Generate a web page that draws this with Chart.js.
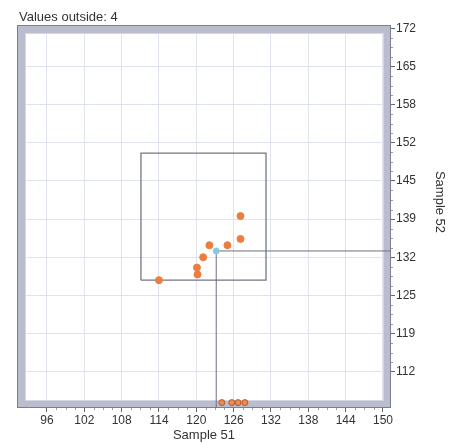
<!DOCTYPE html>
<html>
<head>
<meta charset="utf-8">
<script src="https://cdn.jsdelivr.net/npm/chart.js@4/dist/chart.umd.min.js"></script>
<style>
  html, body { margin: 0; padding: 0; background: #fff; }
  #wrap { width: 465px; height: 443px; }
</style>
</head>
<body>
<div id="wrap"><canvas id="chart"></canvas></div>
<script>
// values
const sampleX = [114.0, 120.1, 120.2, 121.1, 122.1, 125.0, 127.1, 127.1];
const sampleY = [128.0, 130.2, 129.0, 132.0, 134.1, 134.1, 139.2, 135.2];
const outsideX = [124.1, 125.7, 126.7, 127.8];
const outsideY = [106.6, 106.6, 106.6, 106.6];
const centerPoint = { x: 123.2, y: 133.1 };
const boxX = [111.1, 111.1, 131.2, 131.2, 111.1];
const boxY = [128.0, 150.2, 150.2, 128.0, 128.0];
const xTicks = [96, 102, 108, 114, 120, 126, 132, 138, 144, 150];
const yTickLabels = ["172", "165", "158", "152", "145", "139", "132", "125", "119", "112"];
const xMin = 91.18, xMax = 151.29;
const yMin = 105.66, yMax = 172.58;
const yFirst = 172, yLast = 112;

const FONT = "'Liberation Sans', Arial, sans-serif";
const TEXT = "#333";

const zip = (xs, ys) => xs.map((x, i) => ({ x: x, y: ys[i] }));

// grey frame where out-of-range values land, plus minor ticks and texts
const framePlugin = {
  id: "frame",
  beforeDatasetsDraw(chart) {
    const { ctx, chartArea: a } = chart;
    ctx.save();
    ctx.beginPath();
    ctx.rect(a.left, a.top, a.right - a.left, a.bottom - a.top);
    ctx.rect(a.left + 9, a.top + 9, a.right - a.left - 17, a.bottom - a.top - 17);
    ctx.fillStyle = "#b9bdcd";
    ctx.fill("evenodd");
    ctx.strokeStyle = "#d4d7e2";
    ctx.lineWidth = 1;
    ctx.strokeRect(a.left + 8.5, a.top + 8.5, a.right - a.left - 16, a.bottom - a.top - 16);
    ctx.strokeStyle = "#7c7f8c";
    ctx.strokeRect(a.left + 0.5, a.top + 0.5, a.right - a.left - 1, a.bottom - a.top - 1);
    ctx.restore();
  },
  afterDraw(chart) {
    const { ctx, chartArea: a, scales } = chart;
    ctx.save();
    ctx.strokeStyle = "#9a9ca6";
    ctx.lineWidth = 1;
    ctx.beginPath();
    const yt = scales.y.ticks;
    for (let i = 0; i < yt.length - 1; i++) {
      const p0 = scales.y.getPixelForValue(yt[i].value);
      const p1 = scales.y.getPixelForValue(yt[i + 1].value);
      for (let k = 1; k < 4; k++) {
        const p = Math.round(p0 + (p1 - p0) * k / 4) + 0.5;
        ctx.moveTo(a.right, p);
        ctx.lineTo(a.right + 2, p);
      }
    }
    const xt = scales.x.ticks;
    for (let i = 0; i < xt.length - 1; i++) {
      const p0 = scales.x.getPixelForValue(xt[i].value);
      const p1 = scales.x.getPixelForValue(xt[i + 1].value);
      for (let k = 1; k < 4; k++) {
        const p = Math.round(p0 + (p1 - p0) * k / 4) + 0.5;
        ctx.moveTo(p, a.bottom);
        ctx.lineTo(p, a.bottom + 2);
      }
    }
    ctx.stroke();

    ctx.fillStyle = TEXT;
    ctx.font = "13px " + FONT;
    ctx.textBaseline = "alphabetic";
    ctx.textAlign = "left";
    ctx.fillText("Values outside: " + outsideX.length, a.left + 2, 21);

    ctx.translate(440, 202);
    ctx.rotate(Math.PI / 2);
    ctx.textAlign = "center";
    ctx.textBaseline = "middle";
    ctx.fillText("Sample 52", 0, 0);
    ctx.restore();
  }
};

new Chart(document.getElementById("chart"), {
  type: "scatter",
  data: {
    datasets: [
      {
        label: "center",
        data: [centerPoint],
        backgroundColor: "#86c9e6",
        borderColor: "#86c9e6",
        pointRadius: 3,
      },
      {
        label: "samples",
        data: zip(sampleX, sampleY),
        backgroundColor: "#ec7d3e",
        borderColor: "#ec7d3e",
        pointRadius: 3.5,
      },
      {
        label: "outside",
        data: zip(outsideX, outsideY),
        backgroundColor: "#ea8b52",
        borderColor: "#b4592a",
        borderWidth: 1,
        pointRadius: 3,
      },
      {
        label: "crosshair",
        data: [
          { x: centerPoint.x, y: yMin },
          centerPoint,
          { x: xMax, y: centerPoint.y },
        ],
        showLine: true,
        borderColor: "#6e7080",
        borderWidth: 1,
        pointRadius: 0,
      },
      {
        label: "box",
        data: zip(boxX, boxY),
        showLine: true,
        borderColor: "#747684",
        borderWidth: 1.3,
        pointRadius: 0,
      },
    ],
  },
  options: {
    responsive: true,
    maintainAspectRatio: false,
    animation: false,
    layout: { padding: { left: 17, top: 25, right: 0, bottom: 0 } },
    plugins: {
      legend: { display: false },
      tooltip: { enabled: false },
    },
    scales: {
      x: {
        type: "linear",
        position: "bottom",
        min: xMin,
        max: xMax,
        afterBuildTicks: (scale) => {
          scale.ticks = xTicks.map((v) => ({ value: v }));
        },
        afterFit: (scale) => {
          scale.height = 35;
        },
        ticks: {
          color: TEXT,
          font: { family: FONT, size: 12 },
          padding: 1,
          maxRotation: 0,
          callback: (v) => String(v),
        },
        grid: { color: "#dfe3ed", tickColor: "#666", tickLength: 4 },
        border: { display: false },
        title: {
          display: true,
          text: "Sample 51",
          color: TEXT,
          font: { family: FONT, size: 13 },
          padding: { top: 0, bottom: 0 },
        },
      },
      y: {
        type: "linear",
        position: "right",
        min: yMin,
        max: yMax,
        afterBuildTicks: (scale) => {
          // labels are rounded; the ticks themselves are evenly spaced
          const n = yTickLabels.length - 1;
          scale.ticks = yTickLabels.map((_, i) => ({ value: yFirst + (yLast - yFirst) * i / n }));
        },
        afterFit: (scale) => {
          scale.width = 74;
        },
        ticks: {
          color: TEXT,
          font: { family: FONT, size: 12 },
          padding: 1,
          callback: (v, i) => yTickLabels[i],
        },
        grid: { color: "#dfe3ed", tickColor: "#666", tickLength: 4 },
        border: { display: false },
      },
    },
  },
  plugins: [framePlugin],
});
</script>
</body>
</html>
